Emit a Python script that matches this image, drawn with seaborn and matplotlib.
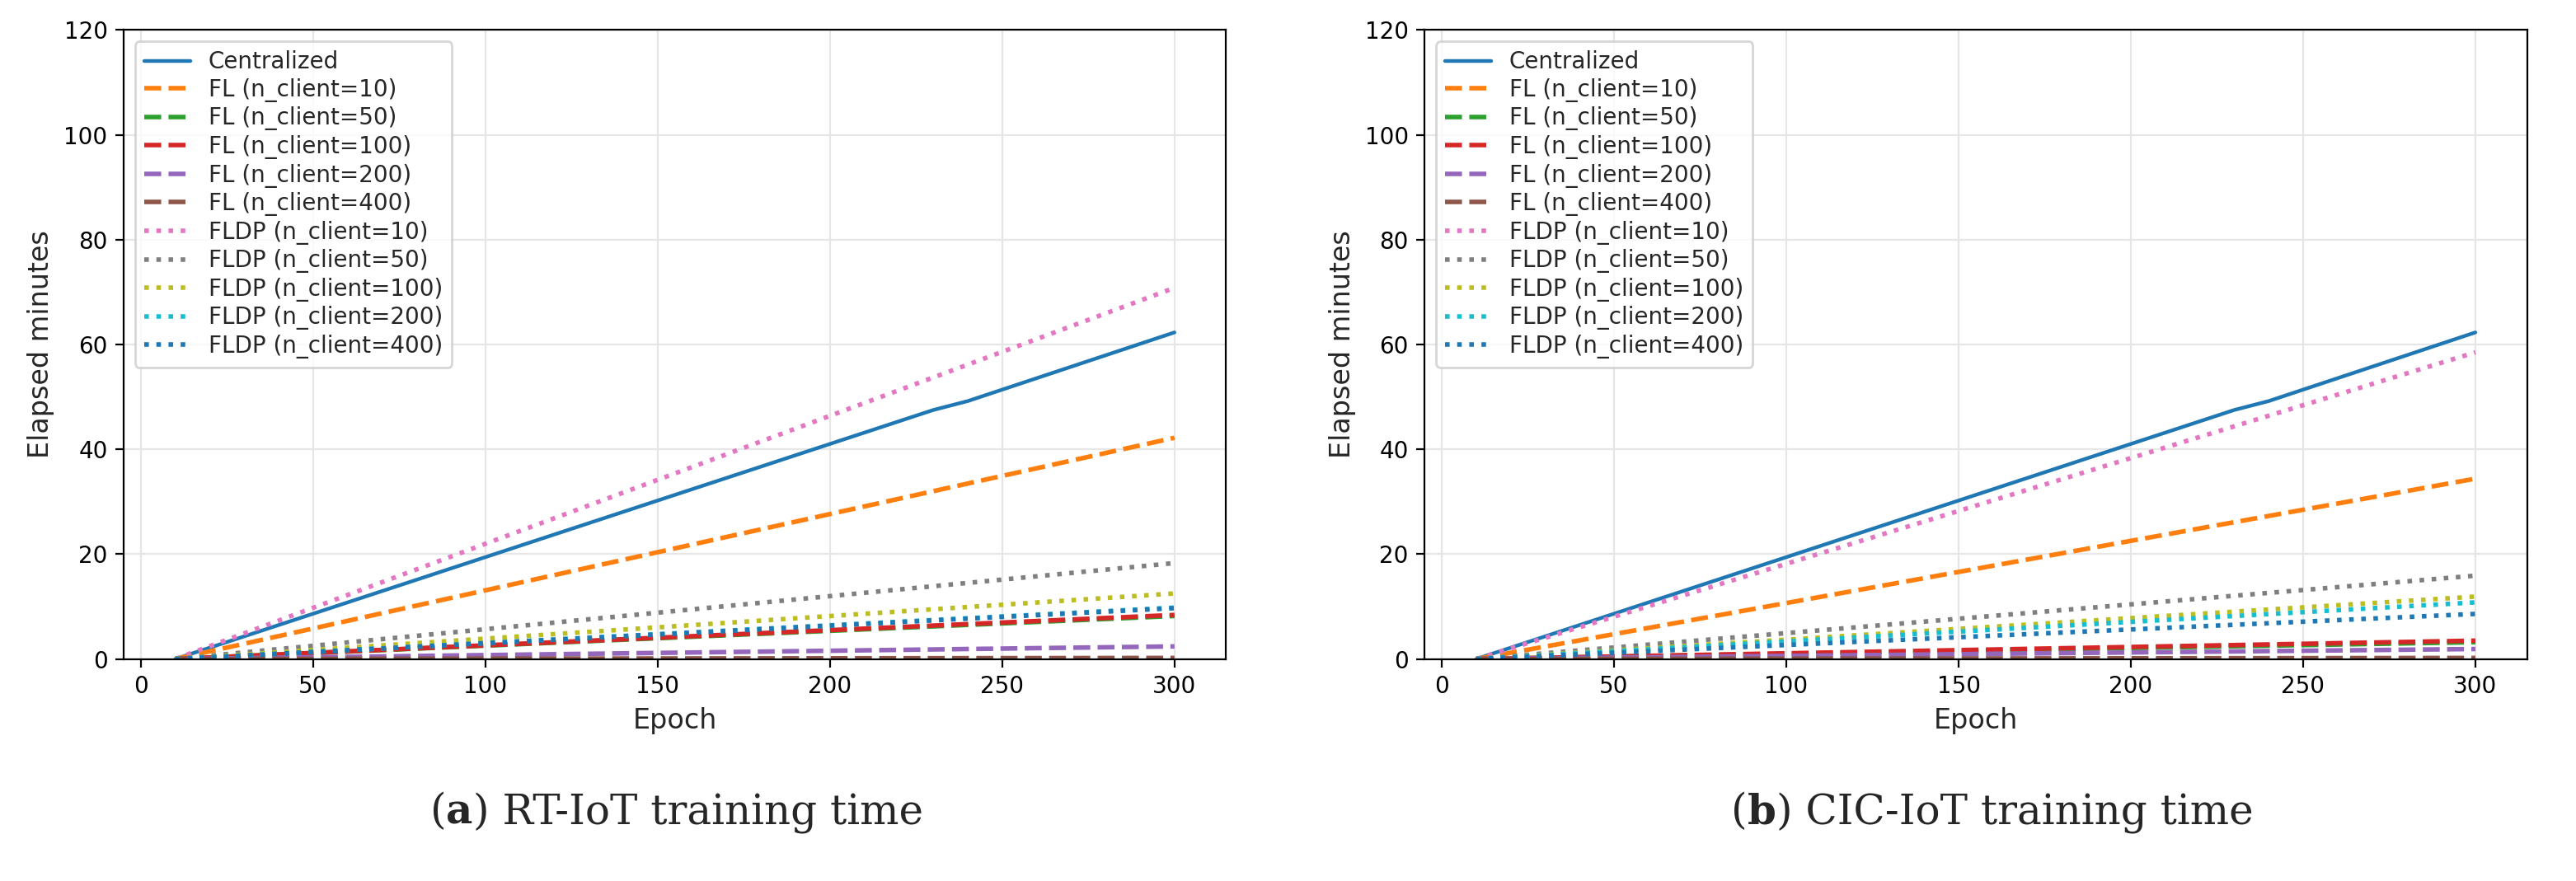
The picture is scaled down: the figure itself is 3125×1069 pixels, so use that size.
import numpy as np
import pandas as pd
import matplotlib.pyplot as plt
import seaborn as sns

sns.set_style('whitegrid', {'axes.edgecolor': 'black', 'grid.color': '#e6e6e6',
                            'xtick.bottom': True, 'ytick.left': True})

labels = ['Centralized',
          'FL (n_client=10)', 'FL (n_client=50)', 'FL (n_client=100)',
          'FL (n_client=200)', 'FL (n_client=400)',
          'FLDP (n_client=10)', 'FLDP (n_client=50)', 'FLDP (n_client=100)',
          'FLDP (n_client=200)', 'FLDP (n_client=400)']
colors = ['#1f77b4', '#ff7f0e', '#2ca02c', '#d62728', '#9467bd', '#8c564b',
          '#e377c2', '#7f7f7f', '#bcbd22', '#17becf', '#1f77b4']
styles = ['-'] + ['--'] * 5 + [':'] * 5

cent_epochs = [10, 230, 240, 300]
cent_vals = [0, 47.5, 49.2, 62.3]
line_epochs = [10, 300]
# end values at epoch 300 (start at 0 for epoch 10)
rt_end = [42.2, 8.2, 8.4, 2.4, 0.2, 70.8, 18.3, 12.5, 9.8, 9.7]
cic_end = [34.4, 3.2, 3.5, 1.9, 0.2, 58.5, 15.9, 11.9, 10.8, 8.6]
captions = [('a', 'RT-IoT training time'), ('b', 'CIC-IoT training time')]

fig, axes = plt.subplots(1, 2, figsize=(15.625, 5.345), dpi=200)
fig.subplots_adjust(left=0.048, right=0.981, top=0.966, bottom=0.252, wspace=0.18)

for ax, ends, (cap, name) in zip(axes, [rt_end, cic_end], captions):
    sns.lineplot(x=cent_epochs, y=cent_vals, ax=ax, color=colors[0],
                 linestyle=styles[0], lw=1.6, label=labels[0])
    for i, v in enumerate(ends, start=1):
        sns.lineplot(x=line_epochs, y=[0, v], ax=ax, color=colors[i],
                     linestyle=styles[i], lw=2.0, label=labels[i])
    ax.set_xlim(-5, 315)
    ax.set_ylim(0, 120)
    ax.set_xticks([0, 50, 100, 150, 200, 250, 300])
    ax.set_yticks(range(0, 121, 20))
    ax.tick_params(labelsize=10, length=3.5, width=0.8, colors='black')
    ax.set_xlabel('Epoch', fontsize=12)
    ax.set_ylabel('Elapsed minutes', fontsize=12)
    for s in ax.spines.values():
        s.set_linewidth(0.8)
    ax.legend(loc='upper left', fontsize=10, frameon=True, handlelength=2.0,
              labelspacing=0.2, borderpad=0.4, framealpha=0.8)

    pos = ax.get_position()
    t1 = fig.text((pos.x0 + pos.x1) / 2 - 0.095, 0.065, '(', ha='left', va='baseline',
                  fontsize=18, family='DejaVu Serif')
    t2 = ax.annotate(cap, xy=(1, 0), xycoords=t1, va='bottom', ha='left',
                     fontsize=18, family='DejaVu Serif', fontweight='bold',
                     annotation_clip=False)
    ax.annotate(') ' + name, xy=(1, 0), xycoords=t2, va='bottom', ha='left',
                fontsize=18, family='DejaVu Serif', annotation_clip=False)

fig.savefig('out.png', dpi=200)
